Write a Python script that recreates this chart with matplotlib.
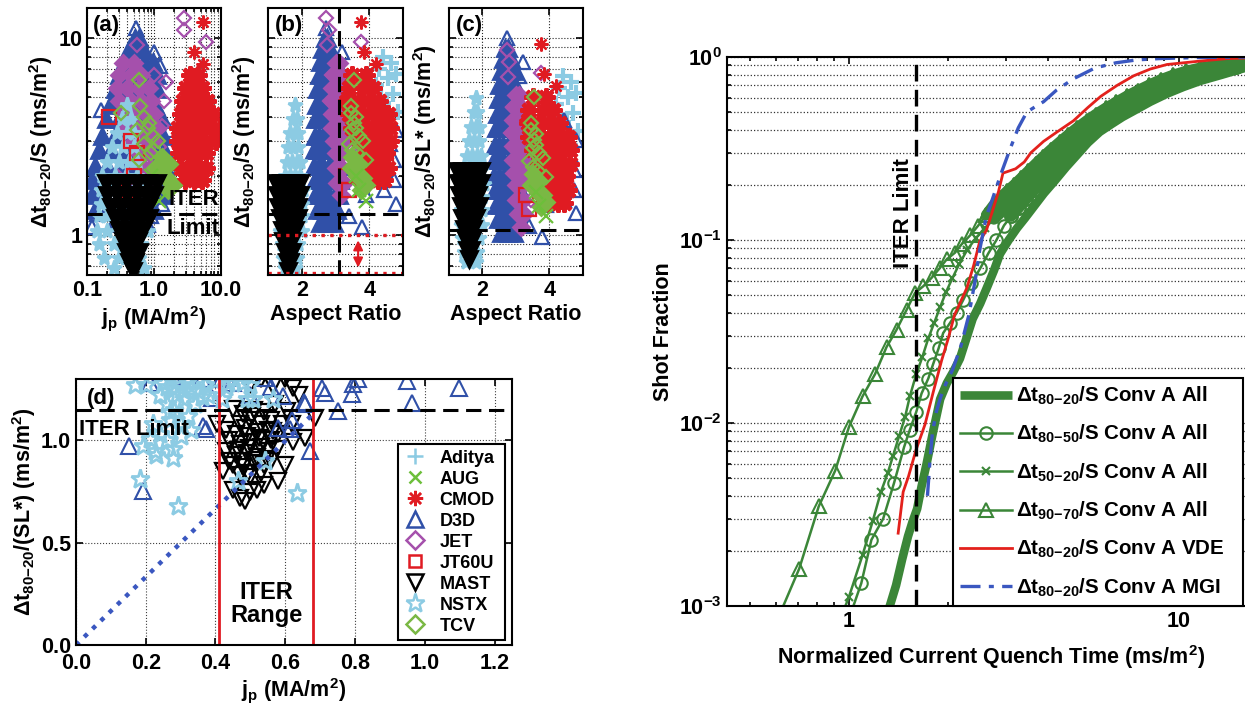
import numpy as np
import matplotlib.pyplot as plt
from matplotlib import font_manager
from matplotlib.ticker import FixedLocator, FixedFormatter, NullFormatter, LogLocator, FormatStrFormatter

plt.rcParams['font.family'] = ['Liberation Sans', 'DejaVu Sans']
plt.rcParams['font.weight'] = 'bold'
plt.rcParams['axes.labelweight'] = 'bold'
plt.rcParams['mathtext.fontset'] = 'custom'
plt.rcParams['mathtext.rm'] = 'Liberation Sans:bold'
plt.rcParams['mathtext.it'] = 'Liberation Sans:bold'
plt.rcParams['mathtext.bf'] = 'Liberation Sans:bold'
plt.rcParams['mathtext.sf'] = 'Liberation Sans:bold'

# ---------------- database clouds: (jp, aspect ratio, dt80-20/S) ----------------
d3d_dt = [10.0, 10.0, 8.8, 8.8, 8.8, 7.6, 7.6, 7.6, 7.6, 6.5, 6.5, 6.5, 6.5, 6.5,
          5.5, 5.5, 5.5, 5.5, 5.5, 4.6, 4.6, 4.6, 4.6, 4.6, 3.9, 3.9, 3.9, 3.9, 3.9, 3.9,
          3.2, 3.2, 3.2, 3.2, 3.2, 3.2, 2.7, 2.7, 2.7, 2.7, 2.7, 2.7,
          2.25, 2.25, 2.25, 2.25, 2.25, 2.25, 1.9, 1.9, 1.9, 1.9, 1.9, 1.9,
          1.6, 1.6, 1.6, 1.6, 1.6, 1.6, 1.35, 1.35, 1.35, 1.35, 1.35, 1.15, 1.15, 1.15]
d3d_jp = [0.52, 0.6, 0.42, 0.55, 0.68, 0.36, 0.5, 0.7, 0.95, 0.3, 0.45, 0.62, 0.85, 1.1,
          0.26, 0.38, 0.55, 0.8, 1.1, 0.22, 0.33, 0.5, 0.75, 1.05, 0.19, 0.3, 0.45, 0.7, 1.0, 1.3,
          0.17, 0.26, 0.4, 0.65, 1.0, 1.35, 0.15, 0.23, 0.38, 0.6, 1.0, 1.4,
          0.13, 0.2, 0.33, 0.55, 0.9, 1.45, 0.12, 0.18, 0.3, 0.5, 0.85, 1.45,
          0.12, 0.18, 0.3, 0.5, 0.8, 1.35, 0.13, 0.2, 0.35, 0.6, 1.0, 0.25, 0.45, 0.75]
d3d_ar = [2.68, 2.76, 2.6, 2.72, 2.84, 2.55, 2.68, 2.82, 2.95, 2.5, 2.6, 2.72, 2.85, 2.98,
          2.45, 2.57, 2.7, 2.85, 3.0, 2.42, 2.55, 2.7, 2.88, 3.05, 2.4, 2.5, 2.62, 2.76, 2.92, 3.07,
          2.38, 2.5, 2.62, 2.76, 2.92, 3.07, 2.36, 2.48, 2.62, 2.78, 2.95, 3.1,
          2.36, 2.5, 2.64, 2.8, 2.95, 3.1, 2.38, 2.5, 2.65, 2.8, 2.98, 3.12,
          2.4, 2.52, 2.66, 2.82, 2.98, 3.1, 2.45, 2.6, 2.75, 2.9, 3.05, 2.55, 2.75, 2.95]
d3d_o_jp = [0.54, 1.21, 1.0, 1.7, 1.5, 1.6, 0.12, 0.14, 1.3, 1.45, 1.0, 1.1, 0.9, 0.7, 1.25, 0.8, 0.16]
d3d_o_ar = [2.72, 3.1, 3.2, 4.79, 4.74, 4.74, 3.79, 2.8, 4.79, 4.44, 3.9, 4.6, 3.4, 4.2, 4.0, 4.45, 4.44]
d3d_o_dt = [11.2, 7.2, 8.5, 3.4, 2.4, 1.9, 1.1, 1.29, 1.45, 1.69, 1.6, 2.9, 1.25, 2.0, 3.9, 2.1, 4.3]

jet_dt = [7.5, 7.5, 6.5, 6.5, 6.5, 5.6, 5.6, 5.6, 5.6, 4.8, 4.8, 4.8, 4.8, 4.1, 4.1, 4.1, 4.1,
          3.5, 3.5, 3.5, 3.5, 3.0, 3.0, 3.0, 2.6, 2.6, 2.2, 2.2, 1.85, 1.85, 1.6]
jet_jp = [0.35, 0.5, 0.3, 0.45, 0.65, 0.28, 0.4, 0.6, 0.85, 0.3, 0.45, 0.65, 0.9, 0.35, 0.5, 0.75, 1.0,
          0.4, 0.6, 0.85, 1.1, 0.5, 0.7, 0.95, 0.6, 0.85, 0.7, 0.9, 0.75, 0.6, 0.8]
jet_ar = [3.0, 3.1, 2.95, 3.05, 3.15, 2.9, 3.0, 3.15, 3.3, 2.9, 3.0, 3.15, 3.3, 2.9, 3.05, 3.2, 3.35,
          2.9, 3.05, 3.2, 3.4, 2.95, 3.1, 3.3, 3.0, 3.2, 3.0, 3.2, 3.05, 3.25, 3.15]
jet_o_jp = [2.84, 2.84, 6.0, 1.5, 1.4, 1.3, 0.55, 1.0, 0.35, 1.2]
jet_o_ar = [2.72, 2.8, 3.75, 3.3, 2.85, 3.4, 2.75, 2.9, 3.45, 3.5]
jet_o_dt = [12.6, 11.0, 9.6, 6.0, 4.8, 3.6, 9.2, 6.5, 2.2, 2.8]

cmod_dt = [6.5, 6.5, 5.6, 5.6, 5.6, 4.8, 4.8, 4.8, 4.8, 4.1, 4.1, 4.1, 4.1, 4.1,
           3.5, 3.5, 3.5, 3.5, 3.5, 3.0, 3.0, 3.0, 3.0, 3.0, 2.6, 2.6, 2.6, 2.6,
           2.2, 2.2, 2.2, 2.2, 1.9, 1.9, 1.9]
cmod_jp = [3.5, 4.5, 3.0, 4.0, 5.2, 2.7, 3.6, 4.8, 6.2, 2.5, 3.3, 4.4, 6.0, 7.5,
           2.3, 3.1, 4.2, 5.8, 8.0, 2.3, 3.1, 4.2, 5.8, 8.5, 2.4, 3.2, 4.3, 6.0,
           2.5, 3.4, 4.6, 6.0, 2.9, 4.0, 5.2]
cmod_ar = [3.5, 3.9, 3.4, 3.8, 4.1, 3.35, 3.7, 4.0, 4.3, 3.4, 3.8, 4.1, 4.35, 4.55,
           3.5, 3.9, 4.15, 4.4, 4.6, 3.7, 4.0, 4.2, 4.45, 4.6, 3.9, 4.1, 4.3, 4.5,
           3.95, 4.15, 4.35, 4.55, 4.0, 4.25, 4.45]
cmod_o_jp = [5.3, 4.0, 5.3, 4.6, 4.2, 3.0]
cmod_o_ar = [3.75, 3.85, 4.2, 3.95, 3.5, 3.3]
cmod_o_dt = [12.1, 8.5, 7.4, 5.6, 6.5, 5.0]

nstx_dt = [4.6, 3.9, 3.9, 3.3, 3.3, 3.3, 2.8, 2.8, 2.8, 2.35, 2.35, 2.35, 2.35,
           2.0, 2.0, 2.0, 2.0, 1.7, 1.7, 1.7, 1.7, 1.7, 1.45, 1.45, 1.45, 1.45, 1.45,
           1.25, 1.25, 1.25, 1.25, 1.25, 1.05, 1.05, 1.05, 1.05, 1.05,
           0.9, 0.9, 0.9, 0.9, 0.77, 0.77, 0.77, 0.68, 0.68]
nstx_jp = [0.4, 0.33, 0.45, 0.28, 0.4, 0.5, 0.24, 0.35, 0.5, 0.2, 0.3, 0.42, 0.55,
           0.17, 0.26, 0.38, 0.55, 0.16, 0.22, 0.33, 0.5, 0.7, 0.16, 0.21, 0.3, 0.45, 0.7,
           0.15, 0.2, 0.3, 0.5, 0.75, 0.14, 0.2, 0.32, 0.55, 0.8,
           0.15, 0.25, 0.4, 0.65, 0.18, 0.3, 0.6, 0.25, 0.7]
nstx_ar = [1.8, 1.75, 1.85, 1.65, 1.8, 1.9, 1.6, 1.75, 1.9, 1.55, 1.7, 1.85, 1.95,
           1.5, 1.65, 1.8, 1.95, 1.45, 1.6, 1.75, 1.9, 2.05, 1.4, 1.55, 1.7, 1.85, 2.0,
           1.35, 1.5, 1.7, 1.85, 2.0, 1.35, 1.5, 1.65, 1.8, 2.0,
           1.4, 1.55, 1.7, 1.9, 1.45, 1.6, 1.85, 1.5, 1.8]

mast_dt = [1.85, 1.85, 1.85, 1.85, 1.85, 1.85, 1.6, 1.6, 1.6, 1.6, 1.6, 1.6,
           1.4, 1.4, 1.4, 1.4, 1.4, 1.22, 1.22, 1.22, 1.22, 1.22, 1.07, 1.07, 1.07, 1.07,
           0.94, 0.94, 0.94, 0.82, 0.82, 0.82, 0.73, 0.73, 0.66]
mast_jp = [0.19, 0.27, 0.38, 0.55, 0.8, 1.1, 0.2, 0.28, 0.4, 0.55, 0.75, 1.0,
           0.23, 0.32, 0.45, 0.6, 0.8, 0.26, 0.36, 0.48, 0.65, 0.85, 0.3, 0.4, 0.52, 0.68,
           0.34, 0.45, 0.58, 0.38, 0.48, 0.6, 0.43, 0.52, 0.48]
mast_ar = [1.25, 1.38, 1.5, 1.65, 1.8, 1.95, 1.28, 1.4, 1.55, 1.68, 1.82, 1.95,
           1.3, 1.43, 1.57, 1.72, 1.88, 1.35, 1.47, 1.6, 1.75, 1.9, 1.4, 1.52, 1.65, 1.8,
           1.45, 1.58, 1.72, 1.5, 1.6, 1.7, 1.55, 1.65, 1.6]

tcv_jp = [1.3, 1.7, 1.2, 1.55, 1.9, 1.05, 1.4, 1.6]
tcv_ar = [3.5, 3.7, 3.6, 3.8, 3.9, 3.45, 3.65, 3.75]
tcv_dt = [2.5, 2.3, 2.1, 1.95, 1.8, 2.2, 2.0, 1.7]
tcv_o_jp = [0.6, 0.32, 0.55, 0.72, 0.85, 0.95, 0.7, 0.9, 1.15, 0.62, 0.6, 0.8, 1.0]
tcv_o_ar = [3.55, 3.45, 3.5, 3.6, 3.55, 3.7, 3.4, 3.65, 3.8, 3.45, 3.9, 3.6, 3.5]
tcv_o_dt = [6.1, 4.15, 3.4, 4.0, 3.7, 3.2, 2.9, 2.6, 3.0, 4.5, 2.4, 3.5, 2.7]

jt60_jp = [0.21, 0.45, 0.5, 0.55, 0.42]
jt60_ar = [4.45, 4.4, 3.3, 4.5, 3.4]
jt60_dt = [4.0, 3.0, 2.0, 2.6, 1.7]

adi_jp = [0.55, 0.5, 0.6, 0.45, 0.7, 0.4, 0.8, 0.5, 0.65, 0.55, 0.6, 0.55, 0.35, 0.5]
adi_ar = [4.4, 4.3, 4.55, 4.2, 4.7, 4.4, 4.85, 4.5, 4.8, 4.05, 4.25, 4.65, 4.6, 4.35]
adi_dt = [8.0, 7.0, 6.3, 5.8, 5.2, 4.7, 4.2, 3.8, 6.6, 5.5, 4.5, 7.5, 3.6, 5.0]

aug_jp = [1.0, 1.2, 0.9]
aug_ar = [3.7, 3.9, 3.6]
aug_dt = [1.7, 1.5, 2.0]

# normalised inductance factor L* per device
lstar = {'D3D': 1.12, 'JET': 1.45, 'CMOD': 1.3, 'NSTX': 0.93, 'MAST': 0.87,
         'TCV': 1.22, 'JT60U': 1.25, 'Aditya': 1.25, 'AUG': 1.2}

# ---------------- panel (d): ITER-like aspect ratio subset ----------------
d_d3d_jp = [0.213, 0.152, 0.191, 0.372, 0.365, 0.389, 0.279, 0.432, 0.542, 0.595, 0.614, 0.657,
            0.671, 0.705, 0.714, 0.752, 0.791, 0.795, 0.81, 0.948, 0.963, 1.097, 0.45, 0.58,
            0.62, 0.36, 0.415, 0.655, 0.56, 0.50]
d_d3d_y = [1.279, 0.972, 0.752, 1.057, 1.07, 1.209, 1.31, 1.307, 1.307, 1.217, 1.054, 1.176,
           0.948, 1.258, 1.234, 1.144, 1.225, 1.275, 1.299, 1.291, 1.185, 1.258, 1.28, 1.06,
           1.1, 1.3, 1.3, 1.19, 1.26, 1.22]
d_nstx_jp = [0.25, 0.27, 0.28, 0.29, 0.30, 0.31, 0.26, 0.28, 0.32, 0.30, 0.27, 0.33, 0.34, 0.24, 0.26,
             0.37, 0.40, 0.43, 0.45, 0.48, 0.50, 0.38, 0.42,
             0.184, 0.294, 0.193, 0.227, 0.279, 0.279, 0.212, 0.23, 0.26, 0.24, 0.20, 0.17,
             0.633, 0.509, 0.566, 0.542, 0.466, 0.30, 0.33, 0.22, 0.35, 0.47, 0.49, 0.435,
             0.29, 0.31, 0.27, 0.32, 0.35, 0.36]
d_nstx_y = [1.28, 1.30, 1.25, 1.22, 1.27, 1.20, 1.18, 1.15, 1.12, 1.08, 1.10, 1.25, 1.18, 1.22, 1.26,
            1.27, 1.29, 1.26, 1.30, 1.28, 1.27, 1.22, 1.20,
            0.809, 0.678, 0.972, 0.948, 0.956, 0.915, 1.005, 0.93, 1.0, 1.03, 1.27, 1.27,
            0.743, 1.2, 1.2, 0.899, 0.8, 1.02, 1.05, 1.08, 1.24, 1.32, 1.2, 1.28,
            1.29, 1.24, 1.14, 1.29, 1.3, 1.21]
d_mast_jp = [0.403, 0.423, 0.451, 0.485, 0.518, 0.58, 0.623, 0.657, 0.685, 0.623, 0.566, 0.604,
             0.451, 0.494, 0.547, 0.575, 0.566, 0.59, 0.53, 0.5, 0.6, 0.64, 0.47, 0.5, 0.54,
             0.44, 0.43, 0.62, 0.6, 0.57,
             0.45, 0.48, 0.51, 0.54, 0.56, 0.46, 0.49, 0.52, 0.55, 0.47,
             0.50, 0.53, 0.56, 0.46, 0.49, 0.52, 0.55, 0.58, 0.47, 0.5,
             0.53, 0.56, 0.48, 0.51, 0.54, 0.44, 0.43, 0.5, 0.53, 0.47,
             0.465, 0.495, 0.525, 0.485, 0.515, 0.505, 0.475, 0.535]
d_mast_y = [1.078, 0.85, 0.76, 0.703, 0.76, 0.8, 0.99, 1.013, 1.11, 1.258, 1.266, 1.144,
            1.152, 0.841, 0.907, 0.956, 1.046, 1.078, 1.3, 1.27, 1.3, 1.22, 0.72, 0.75, 0.78,
            0.9, 0.95, 1.08, 0.88, 1.18,
            0.88, 0.87, 0.89, 0.88, 0.9, 0.93, 0.94, 0.92, 0.95, 0.98,
            0.99, 0.97, 1.0, 1.03, 1.02, 1.04, 1.05, 1.03, 1.08, 1.1,
            1.08, 1.1, 1.13, 1.15, 1.14, 1.0, 1.05, 0.82, 0.84, 0.83,
            0.955, 0.965, 1.01, 1.06, 0.905, 1.12, 0.9, 1.0]
d_scaling_jp = [0.0, 0.68]
d_scaling_y = [0.0, 1.13]
iter_jp_range = [0.41, 0.68]

# ---------------- cumulative distributions ----------------
all8020_x = [1.3, 1.33, 1.39, 1.45, 1.51, 1.56, 1.61, 1.66, 1.72, 1.8, 1.89, 1.98, 2.07, 2.17,
             2.27, 2.37, 2.5, 2.62, 2.75, 2.87, 3.05, 3.23, 3.42, 3.61, 3.9, 4.2, 4.55, 4.9,
             5.3, 5.76, 6.25, 6.75, 7.26, 8.2, 9.2, 10.3, 11.6, 13.5, 15.8, 18.0]
all8020_y = [0.0007, 0.001, 0.0013, 0.0018, 0.0024, 0.0029, 0.0034, 0.0045, 0.006, 0.009, 0.0135,
             0.0165, 0.019, 0.0225, 0.029, 0.037, 0.045, 0.055, 0.068, 0.084, 0.1, 0.116, 0.132,
             0.15, 0.18, 0.21, 0.25, 0.29, 0.34, 0.39, 0.43, 0.47, 0.505, 0.57, 0.63, 0.685,
             0.74, 0.8, 0.87, 0.91]
all8050_x = [1.0, 1.09, 1.17, 1.27, 1.37, 1.47, 1.53, 1.60, 1.66, 1.74, 1.80, 1.87, 1.93, 2.02,
             2.12, 2.22, 2.35, 2.50, 2.65, 2.80, 2.95, 3.1, 3.27, 3.45, 3.64, 3.85, 4.07, 4.3,
             4.55, 4.82, 5.1, 5.4, 5.75, 6.1, 6.5, 6.95, 7.45, 8.0, 8.6, 9.3, 10.1, 11.0, 12.1,
             13.4, 14.9, 16.6]
all8050_y = [0.00085, 0.00133, 0.0023, 0.003, 0.0047, 0.0074, 0.0092, 0.0115, 0.0145, 0.0175,
             0.021, 0.0256, 0.031, 0.035, 0.040, 0.047, 0.058, 0.070, 0.085, 0.10, 0.12, 0.135,
             0.15, 0.168, 0.187, 0.207, 0.23, 0.255, 0.283, 0.315, 0.348, 0.383, 0.42, 0.455,
             0.49, 0.53, 0.57, 0.61, 0.655, 0.70, 0.74, 0.78, 0.815, 0.85, 0.885, 0.915]
all5020_x = [0.93, 1.0, 1.10, 1.18, 1.25, 1.31, 1.36, 1.42, 1.48, 1.53, 1.60, 1.67, 1.74, 1.81,
             1.89, 1.97, 2.06, 2.16, 2.28, 2.42, 2.58, 2.75, 2.95, 3.1, 3.27, 3.45, 3.64, 3.85,
             4.07, 4.3, 4.55, 4.82, 5.1, 5.4, 5.75, 6.1, 6.5, 6.95, 7.45, 8.0, 8.6, 9.3, 10.1,
             11.0, 12.1, 13.4, 14.9, 16.6]
all5020_y = [0.0008, 0.00112, 0.0019, 0.0029, 0.0042, 0.0053, 0.0066, 0.0085, 0.0108, 0.0140,
             0.0185, 0.023, 0.029, 0.035, 0.043, 0.052, 0.062, 0.074, 0.088, 0.102, 0.116, 0.13,
             0.147, 0.162, 0.178, 0.196, 0.216, 0.238, 0.263, 0.292, 0.323, 0.357, 0.393, 0.43,
             0.467, 0.503, 0.54, 0.58, 0.625, 0.665, 0.71, 0.75, 0.79, 0.825, 0.86, 0.89, 0.92, 0.94]
all9070_x = [0.6, 0.707, 0.81, 0.909, 1.0, 1.1, 1.2, 1.3, 1.394, 1.496, 1.585, 1.68, 1.78, 1.888,
             1.977, 2.095, 2.195, 2.33, 2.466, 2.61, 2.74, 2.88, 3.02, 3.17, 3.33, 3.5, 3.68,
             3.88, 4.1, 4.35, 4.62, 4.92, 5.25, 5.6, 6.0, 6.45, 6.95, 7.5, 8.1, 8.8, 9.6, 10.5,
             11.6, 12.9, 14.4, 16.2]
all9070_y = [0.0008, 0.0016, 0.0035, 0.0055, 0.0095, 0.014, 0.0185, 0.026, 0.0323, 0.0416,
             0.0513, 0.0559, 0.0621, 0.0705, 0.0783, 0.0852, 0.0947, 0.106, 0.12, 0.137, 0.154,
             0.17, 0.185, 0.2, 0.218, 0.238, 0.26, 0.285, 0.312, 0.342, 0.375, 0.41, 0.447,
             0.485, 0.525, 0.565, 0.61, 0.655, 0.7, 0.75, 0.795, 0.835, 0.87, 0.9, 0.93, 0.95]
vde_x = [1.41, 1.46, 1.515, 1.6, 1.70, 1.8, 1.91, 2.0, 2.09, 2.18, 2.28, 2.39, 2.49, 2.61, 2.73,
         2.84, 2.93, 3.2, 3.4, 3.56, 3.89, 4.26, 4.79, 5.3, 5.8, 6.5, 7.3, 8.2, 9.2, 11.6, 14.0, 17.0]
vde_y = [0.0025, 0.0042, 0.0051, 0.0072, 0.0098, 0.0147, 0.022, 0.029, 0.039, 0.046, 0.055,
         0.073, 0.098, 0.113, 0.146, 0.184, 0.232, 0.245, 0.267, 0.30, 0.346, 0.388, 0.448,
         0.53, 0.61, 0.70, 0.79, 0.86, 0.91, 0.95, 0.98, 0.99]
mgi_x = [1.73, 1.76, 1.79, 1.84, 1.90, 1.97, 2.06, 2.18, 2.31, 2.42, 2.49, 2.61, 2.73, 2.89,
         3.07, 3.26, 3.46, 3.67, 3.89, 4.26, 4.79, 5.56, 6.45, 7.48, 8.7, 11.7, 17.0]
mgi_y = [0.0040, 0.0062, 0.0088, 0.0115, 0.0140, 0.0165, 0.0195, 0.026, 0.039, 0.062, 0.088,
         0.135, 0.17, 0.23, 0.31, 0.41, 0.50, 0.535, 0.57, 0.66, 0.76, 0.87, 0.93, 0.965, 0.98,
         0.995, 1.0]

iter_dt_s = 1.28
iter_dt_sl = 1.06
iter_dt_sl_d = 1.15
iter_aspect = 3.1
iter_cq = 1.6

# ---------------- styles ----------------
c_d3d = '#3050a8'
c_lblue = '#8ccbe3'
c_jet = '#a550ac'
c_red = '#e01b22'
c_tcv = '#7ab844'
c_aug = '#6cbf3a'
c_green = '#3b8638'
c_mgi = '#3a57c0'
asterisk = (8, 2, 0)
FS = 15.5

installed = {f.name for f in font_manager.fontManager.ttflist}
if 'Liberation Sans Narrow' in installed:
    leg_font = dict(family='Liberation Sans Narrow', weight='bold', size=14.5)
else:
    leg_font = dict(family='Liberation Sans', weight='bold', size=13)

fig = plt.figure(figsize=(12.45, 7.17), dpi=100)
ax_a = fig.add_axes([0.0699, 0.6165, 0.1076, 0.3724])
ax_b = fig.add_axes([0.2153, 0.6165, 0.1084, 0.3724])
ax_c = fig.add_axes([0.3606, 0.6165, 0.1076, 0.3724])
ax_d = fig.add_axes([0.0610, 0.1004, 0.3502, 0.3710])
ax_r = fig.add_axes([0.5839, 0.1548, 0.4241, 0.7657])


def frame(ax):
    for s in ax.spines.values():
        s.set_linewidth(1.5)
    ax.tick_params(which='both', direction='in', width=1.2, labelsize=FS, top=True, right=True)
    ax.tick_params(which='major', length=5)
    ax.tick_params(which='minor', length=3)


# device groups drawn in the top row: (name, marker, colour, dense cloud, scattered points)
groups = [
    ('Aditya', '+', c_lblue, (adi_jp, adi_ar, adi_dt), None),
    ('D3D', '^', c_d3d, (d3d_jp, d3d_ar, d3d_dt), (d3d_o_jp, d3d_o_ar, d3d_o_dt)),
    ('JET', 'D', c_jet, (jet_jp, jet_ar, jet_dt), (jet_o_jp, jet_o_ar, jet_o_dt)),
    ('NSTX', '*', c_lblue, (nstx_jp, nstx_ar, nstx_dt), None),
    ('CMOD', asterisk, c_red, (cmod_jp, cmod_ar, cmod_dt), (cmod_o_jp, cmod_o_ar, cmod_o_dt)),
    ('JT60U', 's', c_red, None, (jt60_jp, jt60_ar, jt60_dt)),
    ('TCV', 'D', c_tcv, (tcv_jp, tcv_ar, tcv_dt), (tcv_o_jp, tcv_o_ar, tcv_o_dt)),
    ('AUG', 'x', c_aug, None, (aug_jp, aug_ar, aug_dt)),
    ('MAST', 'v', 'black', (mast_jp, mast_ar, mast_dt), None),
]

for name, mk, col, core, loose in groups:
    for ax, kind in ((ax_a, 'jp'), (ax_b, 'ar'), (ax_c, 'arl')):
        for pts, filled in ((core, True), (loose, False)):
            if pts is None:
                continue
            jp, ar, dt = (np.asarray(v, float) for v in pts)
            x = jp if kind == 'jp' else ar
            y = dt / lstar[name] if kind == 'arl' else dt
            ms = 8 if mk == 'D' else 11
            if filled:
                ew = 3.0 if mk in (asterisk, '+') else 2.0
                ax.plot(x, y, ls='none', marker=mk, ms=ms + (2 if mk == asterisk else 0),
                        mfc=col, mec=col, mew=ew)
            else:
                ax.plot(x, y, ls='none', marker=mk, ms=ms - 1, mfc='none', mec=col, mew=1.6)

for ax in (ax_a, ax_b, ax_c):
    frame(ax)
    ax.set_yscale('log')
    ax.set_ylim(0.63, 14.2)
    ax.yaxis.set_major_locator(FixedLocator([1, 10]))
    ax.yaxis.set_minor_locator(LogLocator(base=10, subs=np.arange(2, 10)))
    ax.yaxis.set_minor_formatter(NullFormatter())
    ax.grid(True, which='both', ls=':', color='0.15', lw=0.8)

# (a)
ax_a.set_xscale('log')
ax_a.set_xlim(0.1, 10)
ax_a.xaxis.set_major_locator(FixedLocator([0.1, 1, 10]))
ax_a.xaxis.set_major_formatter(FixedFormatter(['0.1', '1.0', '10.0']))
ax_a.xaxis.set_minor_formatter(NullFormatter())
ax_a.yaxis.set_major_formatter(FixedFormatter(['1', '10']))
ax_a.axhline(iter_dt_s, color='k', ls=(0, (5, 2.5)), lw=2.2)
ax_a.text(9.4, 1.52, 'ITER', ha='right', va='center', fontsize=16, zorder=6)
ax_a.text(9.4, 1.08, 'Limit', ha='right', va='center', fontsize=16, zorder=6)
ax_a.text(0.04, 0.975, '(a)', transform=ax_a.transAxes, ha='left', va='top', fontsize=16)
ax_a.set_xlabel('j$_p$ (MA/m$^2$)', fontsize=FS, labelpad=2)
ax_a.set_ylabel('Δt$_{80{-}20}$/S (ms/m$^2$)', fontsize=FS, labelpad=2)

# (b) and (c)
for ax in (ax_b, ax_c):
    ax.set_xlim(1, 5)
    ax.xaxis.set_major_locator(FixedLocator([2, 4]))
    ax.yaxis.set_major_formatter(NullFormatter())
    ax.set_xlabel('Aspect Ratio', fontsize=FS, labelpad=2)

ax_b.axhline(iter_dt_s, color='k', ls=(0, (5, 2.5)), lw=2.2)
ax_b.axvline(iter_aspect, color='k', ls=(0, (5, 2.5)), lw=2.2)
ax_b.axhline(1.0, color=c_red, ls=':', lw=2.4)
ax_b.axhline(0.645, color=c_red, ls=':', lw=2.4)
ax_b.annotate('', xy=(3.67, 0.665), xytext=(3.67, 0.975),
              arrowprops=dict(arrowstyle='<|-|>', color=c_red, lw=1.5, mutation_scale=14))
ax_b.text(0.05, 0.975, '(b)', transform=ax_b.transAxes, ha='left', va='top', fontsize=16)
ax_b.set_ylabel('Δt$_{80{-}20}$/S (ms/m$^2$)', fontsize=FS, labelpad=4)

ax_c.axhline(iter_dt_sl, color='k', ls=(0, (5, 2.5)), lw=2.2)
ax_c.text(0.05, 0.975, '(c)', transform=ax_c.transAxes, ha='left', va='top', fontsize=16)
ax_c.set_ylabel('Δt$_{80{-}20}$/SL* (ms/m$^2$)', fontsize=FS, labelpad=4)

# (d)
frame(ax_d)
ax_d.tick_params(axis='x', pad=6)
ax_d.plot(d_mast_jp, d_mast_y, ls='none', marker='v', ms=11, mfc='none', mec='black', mew=1.6)
ax_d.plot(d_d3d_jp, d_d3d_y, ls='none', marker='^', ms=11, mfc='none', mec=c_d3d, mew=1.5)
ax_d.plot(d_nstx_jp, d_nstx_y, ls='none', marker='*', ms=14, mfc='none', mec=c_lblue, mew=2.0)
ax_d.plot(d_scaling_jp, d_scaling_y, ls=(0, (1, 1.6)), color=c_mgi, lw=3.2)
for xv in iter_jp_range:
    ax_d.axvline(xv, color=c_red, lw=2)
ax_d.axhline(iter_dt_sl_d, color='k', ls=(0, (5, 2.5)), lw=2.2)
ax_d.set_xlim(0, 1.25)
ax_d.set_ylim(0, 1.3)
ax_d.xaxis.set_major_locator(FixedLocator([0, 0.2, 0.4, 0.6, 0.8, 1.0, 1.2]))
ax_d.xaxis.set_major_formatter(FormatStrFormatter('%.1f'))
ax_d.yaxis.set_major_locator(FixedLocator([0, 0.5, 1.0]))
ax_d.yaxis.set_major_formatter(FormatStrFormatter('%.1f'))
ax_d.grid(True, ls=':', color='0.25', lw=0.8)
ax_d.text(0.008, 1.055, 'ITER Limit', ha='left', va='center', fontsize=16)
ax_d.text(0.545, 0.2, 'ITER\nRange', ha='center', va='center', fontsize=17, linespacing=1.0)
ax_d.text(0.025, 0.965, '(d)', transform=ax_d.transAxes, ha='left', va='top', fontsize=16)
ax_d.set_xlabel('j$_p$ (MA/m$^2$)', fontsize=FS, labelpad=1)
ax_d.set_ylabel('Δt$_{80{-}20}$/(SL*) (ms/m$^2$)', fontsize=FS, labelpad=2)

legend_order = [('Aditya', '+', c_lblue, 12), ('AUG', 'x', c_aug, 8), ('CMOD', asterisk, c_red, 11),
                ('D3D', '^', c_d3d, 11), ('JET', 'D', c_jet, 9), ('JT60U', 's', c_red, 8),
                ('MAST', 'v', 'black', 11), ('NSTX', '*', c_lblue, 14), ('TCV', 'D', c_tcv, 9)]
handles = [plt.Line2D([], [], ls='none', marker=m, ms=s, mfc='none', mec=c, mew=1.8, label=n)
           for n, m, c, s in legend_order]
leg_d = ax_d.legend(handles=handles, loc='lower left', bbox_to_anchor=(0.7385, 0.019, 0.2455, 0.838),
                    mode='expand', prop=leg_font, handlelength=1.3, handletextpad=0.7,
                    labelspacing=0.22, borderpad=0.3, borderaxespad=0, fancybox=False,
                    framealpha=1, edgecolor='black')
leg_d.get_frame().set_linewidth(1.5)

# right: cumulative shot fraction
frame(ax_r)
ax_r.tick_params(right=False)
ax_r.set_xscale('log')
ax_r.set_yscale('log')
l1, = ax_r.plot(all8020_x, all8020_y, color=c_green, lw=6.2, solid_capstyle='butt')
series = [(all8050_x, all8050_y, dict(marker='o', ms=9, mfc='none', mew=1.5)),
          (all5020_x, all5020_y, dict(marker='x', ms=6, mew=1.5)),
          (all9070_x, all9070_y, dict(marker='^', ms=10, mfc='none', mew=1.5))]
marked = []
for xs, ys, mk in series:
    xs, ys = np.asarray(xs), np.asarray(ys)
    h, = ax_r.plot(xs, ys, color=c_green, lw=1.8, **mk)
    marked.append(h)
    # where the shots pile up the markers merge into a solid band
    crowd = ys >= 0.13
    ax_r.plot(xs[crowd], ys[crowd], color=c_green, lw=8, solid_capstyle='round', **mk)
l5, = ax_r.plot(vde_x, vde_y, color='#e3211c', lw=2.0)
l6, = ax_r.plot(mgi_x, mgi_y, color=c_mgi, lw=2.4, ls=(0, (6, 2.5, 1.5, 2.5)))
ax_r.axvline(iter_cq, color='k', ls=(0, (5, 2.5)), lw=2.4)
ax_r.text(iter_cq * 0.985, 0.14, 'ITER Limit', rotation=90, ha='right', va='center', fontsize=16)
ax_r.set_xlim(0.427, 17.0)
ax_r.set_ylim(1e-3, 1.0)
ax_r.xaxis.set_major_locator(FixedLocator([1, 10]))
ax_r.xaxis.set_major_formatter(FixedFormatter(['1', '10']))
ax_r.xaxis.set_minor_formatter(NullFormatter())
ax_r.yaxis.set_minor_formatter(NullFormatter())
ax_r.grid(True, axis='y', which='both', ls=':', color='0.2', lw=0.9)
ax_r.set_xlabel('Normalized Current Quench Time (ms/m$^2$)', fontsize=FS, labelpad=8)
ax_r.set_ylabel('Shot Fraction', fontsize=FS, labelpad=4)
labels = ['Δt$_{80{-}20}$/S Conv A All', 'Δt$_{80{-}50}$/S Conv A All',
          'Δt$_{50{-}20}$/S Conv A All', 'Δt$_{90{-}70}$/S Conv A All',
          'Δt$_{80{-}20}$/S Conv A VDE', 'Δt$_{80{-}20}$/S Conv A MGI']
leg_r = ax_r.legend([l1] + marked + [l5, l6], labels, loc='lower left',
                    bbox_to_anchor=(0.428, 0.0, 0.55, 0.425), mode='expand', fontsize=14.8,
                    handlelength=2.5, handletextpad=0.2, labelspacing=0.78, borderpad=0.35,
                    borderaxespad=0, fancybox=False, framealpha=1, edgecolor='black')
leg_r.get_frame().set_linewidth(1.5)

fig.savefig('out.png', dpi=100)
